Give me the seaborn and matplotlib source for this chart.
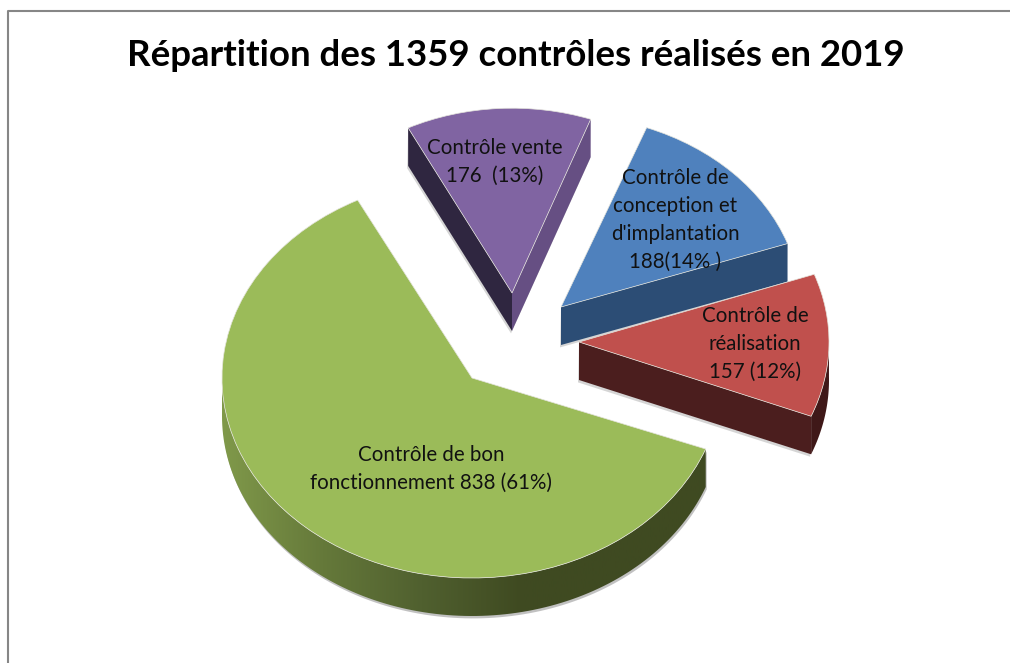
import matplotlib
matplotlib.use("Agg")
import matplotlib.pyplot as plt
from matplotlib.lines import Line2D
from matplotlib.patches import Polygon
import numpy as np
import seaborn as sns

# values, counter-clockwise from the red slice
controls = ["Réalisation", "Conception", "Vente", "Bon fonctionnement"]
counts = [157, 188, 176, 838]
labels = ["Contrôle de\nréalisation\n157 (12%)",
          "Contrôle de\nconception et\nd'implantation\n188(14% )",
          "Contrôle vente\n176  (13%)",
          "Contrôle de bon\nfonctionnement 838 (61%)"]
title = "Répartition des 1359 contrôles réalisés en 2019"

top_colors = ["#C0504D", "#4F81BD", "#8064A2", "#9BBB59"]

W, H = 1010, 663
SQUASH = 0.8  # the pie is tilted, y is flattened by this much
DEPTH = 38 / SQUASH

# slice layout in reference pixels
centers_px = [(579, 342), (561, 307), (512, 293), (472, 378)]
radii = [250, 240, 231, 250]
turn = [-1.5, -2, -1, -0.5]  # small rotation of each exploded slice, degrees
label_px = [(755, 344), (675, 220), (495, 162), (431, 469)]


def to_data(x, y):
    return x, (H - y) / SQUASH


def arc(cx, cy, r, t1, t2, n=120):
    t = np.radians(np.linspace(t1, t2, n))
    return cx + r * np.cos(t), cy + r * np.sin(t)


def radial_face(ax, c, r, angle, color, zorder):
    ex, ey = arc(c[0], c[1], r, angle, angle, 1)
    pts = [(c[0], c[1]), (ex[0], ey[0]), (ex[0], ey[0] - DEPTH), (c[0], c[1] - DEPTH)]
    ax.add_patch(Polygon(pts, closed=True, fc=color, ec="none", zorder=zorder))


def radial_shadow(ax, c, r, angle, zorder):
    ex, ey = arc(c[0], c[1], r, angle, angle, 1)
    pts = [(c[0], c[1]), (ex[0], ey[0]), (ex[0] - 1, ey[0] - DEPTH - 3), (c[0] - 1, c[1] - DEPTH - 3)]
    ax.add_patch(Polygon(pts, closed=True, fc="#888888", ec="none", alpha=0.35, zorder=zorder))


def arc_face(c, r, t1, t2):
    x, y = arc(c[0], c[1], r, t1, t2)
    return np.r_[np.c_[x, y], np.c_[x[::-1], y[::-1] - DEPTH]]


def main():
    sns.set_theme(style="white")
    plt.rcParams["font.family"] = ["Lato", "DejaVu Sans"]

    fig = plt.figure(figsize=(W / 100, H / 100), dpi=100)
    ax = fig.add_axes([0, 0, 1, 1])

    wedges, _ = ax.pie(counts, colors=top_colors, startangle=-20.3, counterclock=True,
                       wedgeprops={"edgecolor": "#E4E4DC", "linewidth": 0.5})
    centers = [to_data(*c) for c in centers_px]
    for w, c, r, d in zip(wedges, centers, radii, turn):
        w.set_center(c)
        w.set_radius(r)
        w.set_theta1(w.theta1 + d)
        w.set_theta2(w.theta2 + d)

    red, blue, purple, green = wedges
    for w, z in zip([purple, blue, red, green], [5, 10, 15, 20]):
        w.set_zorder(z)

    # soft shadows under the sides
    radial_shadow(ax, centers[2], radii[2], purple.theta2, 3)
    radial_shadow(ax, centers[2], radii[2], purple.theta1, 3)
    radial_shadow(ax, centers[1], radii[1], blue.theta1, 8)
    radial_shadow(ax, centers[0], radii[0], red.theta1, 13)
    shadow = arc_face((centers[3][0] + 1, centers[3][1] - 3), radii[3], 180, green.theta2 % 360)
    ax.add_patch(Polygon(shadow, closed=True, fc="#777777", ec="none", alpha=0.45, zorder=18))

    # purple: both cut faces show
    radial_face(ax, centers[2], radii[2], purple.theta2, "#2F2640", 4)
    radial_face(ax, centers[2], radii[2], purple.theta1, "#664F83", 4)
    # blue and red: lower cut face
    radial_face(ax, centers[1], radii[1], blue.theta1, "#2C4D75", 9)
    radial_face(ax, centers[0], radii[0], red.theta1, "#4B1E1E", 14)
    ax.add_patch(Polygon(arc_face(centers[0], radii[0], red.theta1, 1), closed=True,
                         fc="#3F1818", ec="none", zorder=14))

    # green rim, light on the left and dark from the middle on
    rim = Polygon(arc_face(centers[3], radii[3], 180, green.theta2 % 360), closed=True,
                  transform=ax.transData, fc="none", ec="none", zorder=19)
    ax.add_patch(rim)
    cmap = sns.blend_palette(["#80994A", "#65793A", "#50602F", "#3F4A21", "#3F4A21", "#3F4A21"], as_cmap=True)
    img = ax.imshow(np.linspace(0, 1, 256).reshape(1, -1), cmap=cmap, aspect="auto",
                    extent=(222, 722, 0, H / SQUASH), zorder=19)
    img.set_clip_path(rim)

    ax.set_xlim(0, W)
    ax.set_ylim(0, H / SQUASH)
    ax.set_aspect("auto")
    ax.axis("off")

    for lab, (x, y) in zip(labels, label_px):
        fig.text(x / W, 1 - y / H, lab, ha="center", va="center", fontsize=14.8,
                 color="#111111", linespacing=1.5, zorder=30)

    fig.text(516 / W, 1 - 56 / H, title, ha="center", va="center", fontsize=26.4,
             fontweight="bold", color="#000000")

    # chart area border, only left and top fall inside the crop
    fig.add_artist(Line2D([8 / W, 8 / W, 1], [0, 1 - 11 / H, 1 - 11 / H], color="#868686", lw=1.5))

    fig.savefig("out.png", dpi=100)


if __name__ == "__main__":
    main()
